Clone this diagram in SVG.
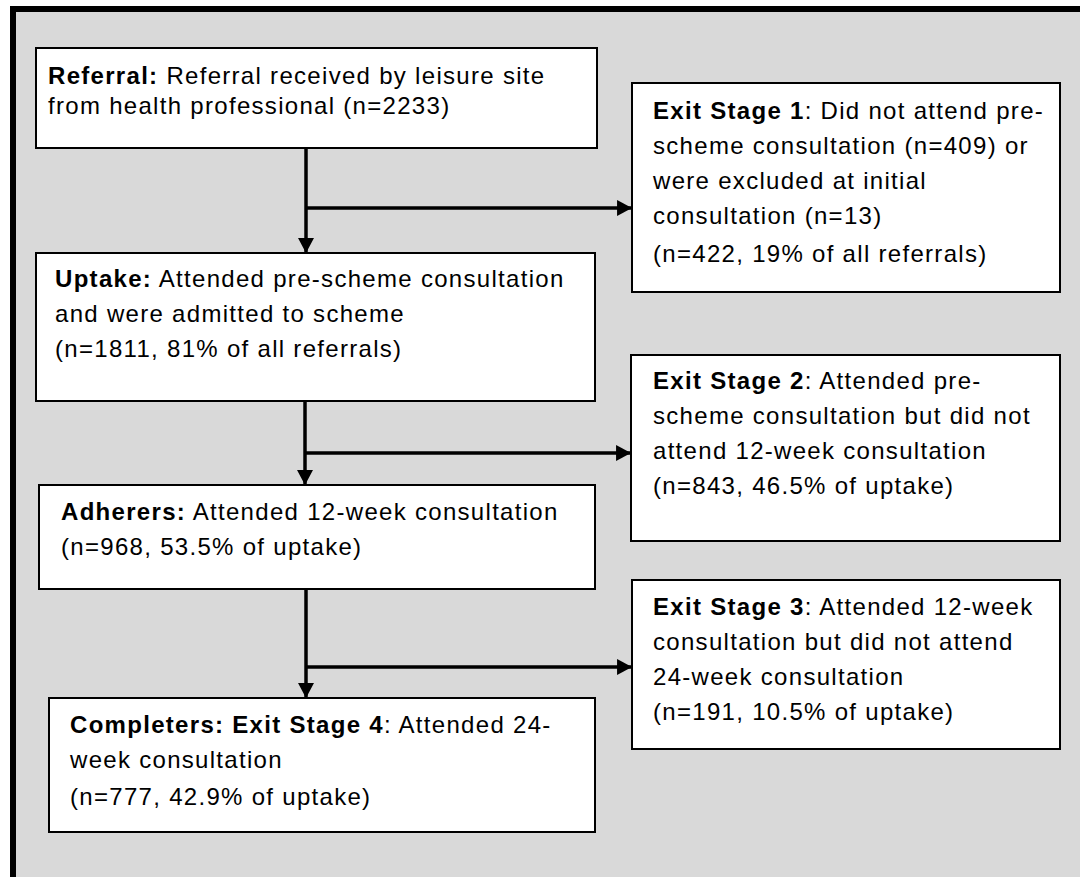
<svg xmlns="http://www.w3.org/2000/svg" width="1080" height="877" viewBox="0 0 1080 877">
<style>
.box{fill:#fff;stroke:#000;stroke-width:2}
.t{font-family:"Liberation Sans",Arial,sans-serif;font-size:24px;letter-spacing:1.3px;fill:#000}
.b{font-weight:bold}
.c{fill:none;stroke:#000;stroke-width:3.5}
</style>
<defs>
<marker id="ah" markerUnits="userSpaceOnUse" markerWidth="16" markerHeight="16" viewBox="0 0 14 15" refX="14" refY="7.5" orient="auto">
<path d="M0,0 L14,7.5 L0,15 Z" fill="#000"/>
</marker>
</defs>
<rect x="13" y="9" width="1100" height="900" fill="#d9d9d9" stroke="#000" stroke-width="6"/>
<g id="connectors">
<path class="c" d="M306,148 V253" marker-end="url(#ah)"/>
<path class="c" d="M306,208 H632" marker-end="url(#ah)"/>
<path class="c" d="M305,401 V485" marker-end="url(#ah)"/>
<path class="c" d="M305,453 H631" marker-end="url(#ah)"/>
<path class="c" d="M306,589 V698" marker-end="url(#ah)"/>
<path class="c" d="M306,667 H632" marker-end="url(#ah)"/>
</g>
<g id="referral">
<rect class="box" x="36" y="48" width="561" height="100"/>
<text class="t" x="48" y="84"><tspan class="b">Referral:</tspan> Referral received by leisure site</text>
<text class="t" x="48" y="114">from health professional (n=2233)</text>
</g>
<g id="exit1">
<rect class="box" x="632" y="83" width="428" height="209"/>
<text class="t" x="653" y="119"><tspan class="b">Exit Stage 1</tspan>: Did not attend pre-</text>
<text class="t" x="653" y="154">scheme consultation (n=409) or</text>
<text class="t" x="653" y="189">were excluded at initial</text>
<text class="t" x="653" y="224">consultation (n=13)</text>
<text class="t" x="653" y="262">(n=422, 19% of all referrals)</text>
</g>
<g id="uptake">
<rect class="box" x="36" y="253" width="559" height="148"/>
<text class="t" x="55" y="287"><tspan class="b">Uptake:</tspan> Attended pre-scheme consultation</text>
<text class="t" x="55" y="322">and were admitted to scheme</text>
<text class="t" x="55" y="357">(n=1811, 81% of all referrals)</text>
</g>
<g id="exit2">
<rect class="box" x="631" y="355" width="429" height="186"/>
<text class="t" x="653" y="389"><tspan class="b">Exit Stage 2</tspan>: Attended pre-</text>
<text class="t" x="653" y="424">scheme consultation but did not</text>
<text class="t" x="653" y="459">attend 12-week consultation</text>
<text class="t" x="653" y="494">(n=843, 46.5% of uptake)</text>
</g>
<g id="adherers">
<rect class="box" x="39" y="485" width="556" height="104"/>
<text class="t" x="61" y="520"><tspan class="b">Adherers:</tspan> Attended 12-week consultation</text>
<text class="t" x="61" y="555">(n=968, 53.5% of uptake)</text>
</g>
<g id="exit3">
<rect class="box" x="632" y="580" width="428" height="169"/>
<text class="t" x="653" y="615"><tspan class="b">Exit Stage 3</tspan>: Attended 12-week</text>
<text class="t" x="653" y="650">consultation but did not attend</text>
<text class="t" x="653" y="685">24-week consultation</text>
<text class="t" x="653" y="720">(n=191, 10.5% of uptake)</text>
</g>
<g id="completers">
<rect class="box" x="49" y="698" width="546" height="134"/>
<text class="t" x="70" y="733"><tspan class="b">Completers: Exit Stage 4</tspan>: Attended 24-</text>
<text class="t" x="70" y="768">week consultation</text>
<text class="t" x="70" y="805">(n=777, 42.9% of uptake)</text>
</g>
</svg>
